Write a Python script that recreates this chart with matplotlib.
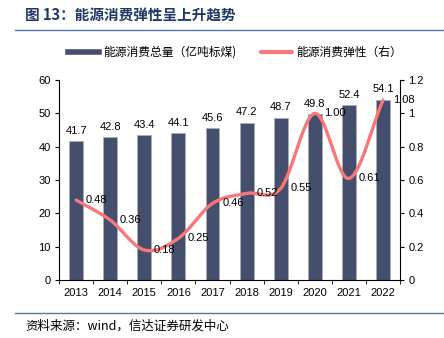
import numpy as np
import matplotlib.pyplot as plt
from matplotlib.lines import Line2D

plt.rcParams['font.family'] = ['Liberation Sans', 'Noto Sans CJK SC', 'DejaVu Sans']
cjk = ['Noto Sans CJK SC', 'DejaVu Sans']

years = ['2013', '2014', '2015', '2016', '2017', '2018', '2019', '2020', '2021', '2022']
total = [41.7, 42.8, 43.4, 44.1, 45.6, 47.2, 48.7, 49.8, 52.4, 54.1]
elasticity = [0.48, 0.36, 0.18, 0.25, 0.46, 0.52, 0.55, 1.00, 0.61, 1.08]

bar_color = '#454E6C'
line_color = '#F87878'
W, H = 444, 338


def smooth(y, n=30):
    # Catmull-Rom curve through the points, like a smoothed line in a spreadsheet chart
    y = np.asarray(y, dtype=float)
    p = np.concatenate([[2 * y[0] - y[1]], y, [2 * y[-1] - y[-2]]])
    xs, ys = [], []
    for i in range(len(y) - 1):
        t = np.linspace(0, 1, n, endpoint=(i == len(y) - 2))
        p0, p1, p2, p3 = p[i], p[i + 1], p[i + 2], p[i + 3]
        seg = 0.5 * (2 * p1 + (-p0 + p2) * t + (2 * p0 - 5 * p1 + 4 * p2 - p3) * t ** 2
                     + (-p0 + 3 * p1 - 3 * p2 + p3) * t ** 3)
        xs.append(i + t)
        ys.append(seg)
    return np.concatenate(xs), np.concatenate(ys)


fig = plt.figure(figsize=(W / 100, H / 100), dpi=100)
ax = fig.add_axes([0.133, 0.1716, 0.768, 0.5914])
x = np.arange(len(years))

ax.bar(x, total, width=0.41, color=bar_color, edgecolor='#A9AEBD', linewidth=0.5, zorder=2)
for xi, v in zip(x, total):
    ax.annotate(f'{v:.1f}', (xi, v), xytext=(0, 4), textcoords='offset points',
                ha='center', va='bottom', fontsize=8)

ax.set_xlim(-0.5, len(years) - 0.5)
ax.set_ylim(0, 60)
ax.set_yticks(range(0, 61, 10))
ax.set_xticks(x)
ax.set_xticklabels(years)
ax.set_xticks(np.arange(-0.5, len(years)), minor=True)
ax.tick_params(axis='x', which='major', length=0, pad=6, labelsize=8)
ax.tick_params(axis='x', which='minor', length=3, direction='out')
ax.tick_params(axis='y', length=3, direction='out', labelsize=8, pad=3)
for s in ['top', 'right']:
    ax.spines[s].set_visible(False)

ax2 = ax.twinx()
sx, sy = smooth(elasticity)
ax2.plot(sx, sy, color=line_color, lw=2.4, solid_capstyle='round', zorder=3)
for xi, v in zip(x, elasticity):
    ax2.annotate(f'{v:.2f}', (xi, v), xytext=(7, 0), textcoords='offset points',
                 ha='left', va='center', fontsize=8)
ax2.set_ylim(0, 1.2)
ax2.set_yticks([0, 0.2, 0.4, 0.6, 0.8, 1.0, 1.2])
ax2.set_yticklabels(['0', '0.2', '0.4', '0.6', '0.8', '1', '1.2'])
ax2.tick_params(axis='y', length=3, direction='out', labelsize=8, pad=3)
for s in ['top', 'left', 'bottom']:
    ax2.spines[s].set_visible(False)

# legend drawn by hand in pixel positions
ly = 1 - 52 / H
fig.add_artist(Line2D([68 / W, 99 / W], [ly, ly], color=bar_color, lw=4))
fig.text(103 / W, ly, '能源消费总量（亿吨标煤)', family=cjk, fontsize=8.5, va='center')
fig.add_artist(Line2D([261 / W, 292 / W], [ly, ly], color=line_color, lw=3,
                      solid_capstyle='round'))
fig.text(296 / W, ly, '能源消费弹性（右）', family=cjk, fontsize=8.5, va='center')

fig.text(25 / W, 1 - 16 / H, '图 13：能源消费弹性呈上升趋势', family=cjk, fontsize=10.5,
         fontweight='bold', color='#1F3864', va='center')
fig.add_artist(Line2D([15 / W, 1.0], [1 - 30 / H] * 2, color='#4F79A8', lw=1))
fig.add_artist(Line2D([15 / W, 1.0], [1 - 313 / H] * 2, color='#4F79A8', lw=1))
fig.text(25 / W, 1 - 326 / H, '资料来源：wind，信达证券研发中心', family=cjk, fontsize=9,
         style='italic', va='center')

fig.savefig('out.png', dpi=100)
